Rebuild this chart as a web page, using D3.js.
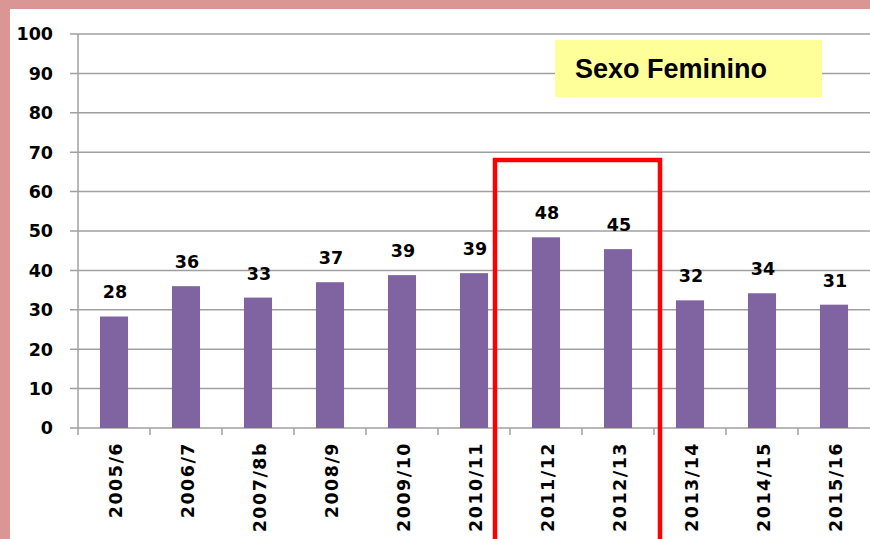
<!DOCTYPE html>
<html><head><meta charset="utf-8">
<script src="https://cdn.jsdelivr.net/npm/d3@7"></script>
<style>html,body{margin:0;padding:0;background:#fff;}svg{display:block;}</style>
</head><body>
<script>
const categories = ["2005/6","2006/7","2007/8b","2008/9","2009/10","2010/11","2011/12","2012/13","2013/14","2014/15","2015/16"];
const values = [28.3, 36, 33.1, 37, 38.8, 39.3, 48.4, 45.4, 32.4, 34.2, 31.3];
const yTicks = [0,10,20,30,40,50,60,70,80,90,100];
const highlighted = ["2011/12","2012/13"];
const title = "Sexo Feminino";

const W = 870, H = 539;
const svg = d3.select("body").append("svg").attr("width", W).attr("height", H);
svg.append("rect").attr("width", W).attr("height", H).attr("fill", "#d99694");
svg.append("rect").attr("x", 10).attr("y", 9).attr("width", W - 10).attr("height", H - 9).attr("fill", "#fff");

const x = d3.scaleBand().domain(categories).range([78, 870]).paddingInner(0).paddingOuter(0);
const y = d3.scaleLinear().domain([0, 100]).range([428, 34]);
const font = "'DejaVu Sans', Verdana, sans-serif";

// gridlines
svg.append("g").selectAll("line").data(yTicks).join("line")
  .attr("x1", 70).attr("x2", W).attr("y1", d => y(d)).attr("y2", d => y(d))
  .attr("stroke", "#a0a0a0").attr("stroke-width", 1.5);

// y axis line
svg.append("line").attr("x1", 78).attr("x2", 78).attr("y1", y(100)).attr("y2", y(0))
  .attr("stroke", "#a0a0a0").attr("stroke-width", 1.5);

// y labels
svg.append("g").selectAll("text").data(yTicks).join("text")
  .attr("x", 53).attr("y", d => y(d)).attr("dy", "0.36em")
  .attr("text-anchor", "end").attr("font-family", font).attr("font-weight", "bold")
  .attr("font-size", 17.5).attr("fill", "#000").text(d => d);

// x ticks
const bounds = categories.map(c => x(c));
svg.append("g").selectAll("line").data(bounds).join("line")
  .attr("x1", d => d).attr("x2", d => d).attr("y1", y(0)).attr("y2", y(0) + 7)
  .attr("stroke", "#a0a0a0").attr("stroke-width", 1.5);

// bars
const bw = x.bandwidth() * 0.39;
svg.append("g").selectAll("rect").data(values).join("rect")
  .attr("x", (d, i) => x(categories[i]) + x.bandwidth() / 2 - bw / 2)
  .attr("y", d => y(d)).attr("width", bw).attr("height", d => y(0) - y(d))
  .attr("fill", "#8064a2");

// value labels
svg.append("g").selectAll("text").data(values).join("text")
  .attr("x", (d, i) => x(categories[i]) + x.bandwidth() / 2 + 1)
  .attr("y", d => y(d) - 18)
  .attr("text-anchor", "middle").attr("font-family", font).attr("font-weight", "bold")
  .attr("font-size", 17.5).attr("fill", "#000").text(d => Math.round(d));

// x labels
svg.append("g").selectAll("text").data(categories).join("text")
  .attr("transform", c => `translate(${x(c) + x.bandwidth() / 2 + 8},442) rotate(-90)`)
  .attr("text-anchor", "end").attr("font-family", font).attr("font-weight", "bold")
  .attr("font-size", 17.5).attr("letter-spacing", 1.5).attr("fill", "#000").text(c => c);

// highlight rectangle
const hx0 = x(highlighted[0]) - 15;
const hx1 = x(highlighted[1]) + x.bandwidth() + 6;
svg.append("path")
  .attr("d", `M${hx0},${H + 10} L${hx0},${y(68)} L${hx1},${y(68)} L${hx1},${H + 10}`)
  .attr("fill", "none").attr("stroke", "#ff0000").attr("stroke-width", 4.5);

// title box
svg.append("rect").attr("x", 555).attr("y", 40).attr("width", 267).attr("height", 57).attr("fill", "#ffff99");
svg.append("text").attr("x", 575).attr("y", 78)
  .attr("font-family", "'Liberation Sans', Arial, sans-serif").attr("font-weight", "bold")
  .attr("font-size", 27).attr("fill", "#000").text(title);
</script>
</body></html>
